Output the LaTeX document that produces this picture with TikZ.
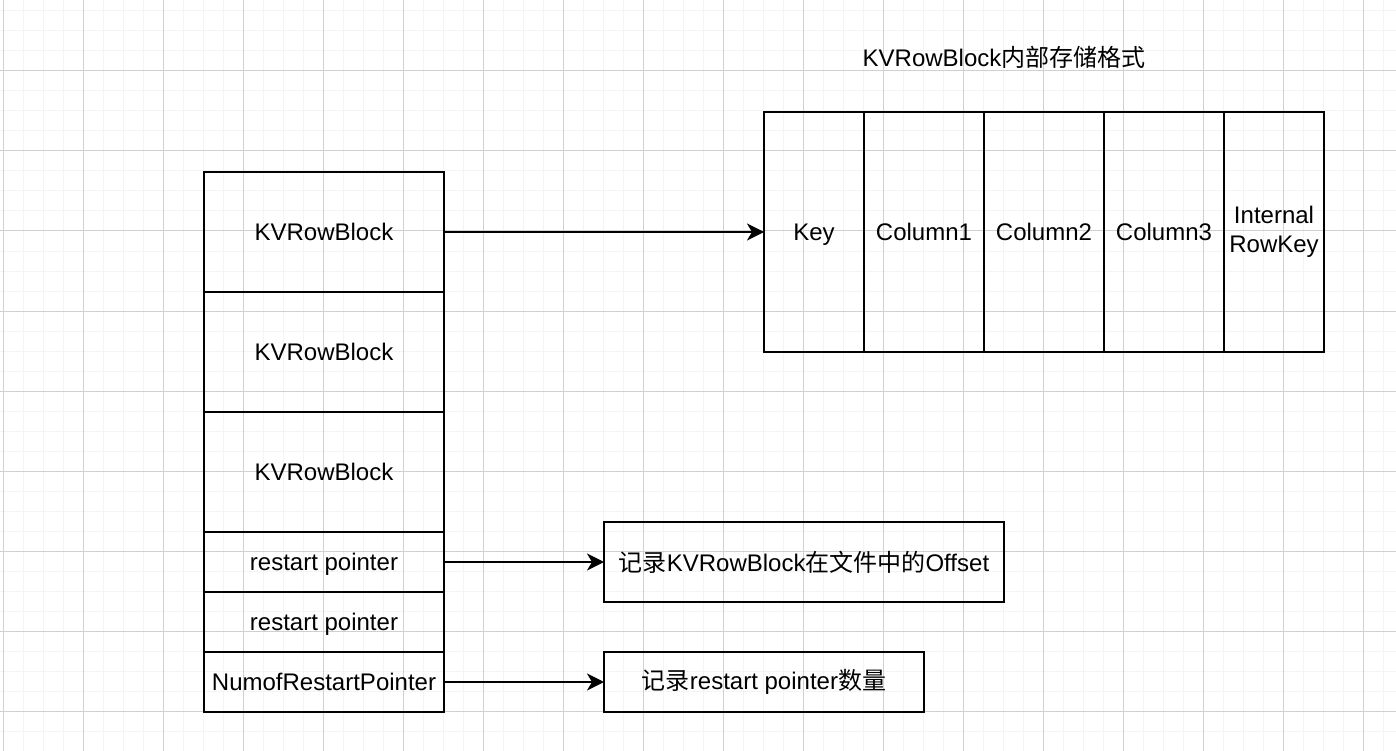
\documentclass[tikz,border=0pt]{standalone}
\usepackage{fontspec}
\setmainfont{Liberation Sans}
\newfontfamily\cjk{Noto Sans CJK SC}
\usetikzlibrary{arrows.meta}
\definecolor{minorgrid}{RGB}{244,244,244}
\definecolor{majorgrid}{RGB}{208,208,208}
\begin{document}
\begin{tikzpicture}[x=1pt,y=-1pt,
  cell/.style={draw=black, line width=2pt, inner sep=0pt, outer sep=0pt, align=center,
    font=\fontsize{24}{29}\selectfont},
  oneline/.style={text height=17.2pt, text depth=0pt},
  arr/.style={line width=2pt, -{Stealth[length=17pt,width=17pt,inset=5pt]}},
  minorline/.style={draw=minorgrid, line width=1pt},
  majorline/.style={draw=majorgrid, line width=1pt}]
\useasboundingbox (0,0) rectangle (1396,751);
\fill[white] (0,0) rectangle (1396,751);
% grid
\foreach \x in {3,23,...,1393} \draw[minorline] (\x,0) -- (\x,751);
\foreach \y in {11,31,...,751} \draw[minorline] (0,\y) -- (1396,\y);
\foreach \x in {3,83,...,1393} \draw[majorline] (\x,0) -- (\x,751);
\foreach \y in {71,151,...,751} \draw[majorline] (0,\y) -- (1396,\y);
% left column
\node[cell, oneline, minimum width=240pt, minimum height=120pt] (kv1) at (324,232) {KVRowBlock};
\node[cell, oneline, minimum width=240pt, minimum height=120pt] (kv2) at (324,352) {KVRowBlock};
\node[cell, oneline, minimum width=240pt, minimum height=120pt] (kv3) at (324,472) {KVRowBlock};
\node[cell, oneline, minimum width=240pt, minimum height=60pt] (rp1) at (324,562) {restart pointer};
\node[cell, oneline, minimum width=240pt, minimum height=60pt] (rp2) at (324,622) {restart pointer};
\node[cell, oneline, minimum width=240pt, minimum height=60pt] (num) at (324,682) {NumofRestartPointer};
% right block
\node[cell, oneline, minimum width=100pt, minimum height=240pt] (key) at (814,232) {Key};
\node[cell, oneline, minimum width=120pt, minimum height=240pt] (c1) at (924,232) {Column1};
\node[cell, oneline, minimum width=120pt, minimum height=240pt] (c2) at (1044,232) {Column2};
\node[cell, oneline, minimum width=120pt, minimum height=240pt] (c3) at (1164,232) {Column3};
\node[cell, minimum width=100pt, minimum height=240pt] (irk) at (1274,232) {Internal\\RowKey};
% title
\node[font=\fontsize{24}{29}\selectfont, inner sep=0pt] (title) at (1004,57) {KVRowBlock{\cjk 内部存储格式}};
% notes
\node[cell, minimum width=400pt, minimum height=80pt] (off) at (804,562) {{\cjk 记录}KVRowBlock{\cjk 在文件中的}Offset};
\node[cell, minimum width=320pt, minimum height=60pt] (cnt) at (764,682) {{\cjk 记录}restart pointer{\cjk 数量}};
% arrows
\draw[arr] (kv1.east) -- (key.west);
\draw[arr] (rp1.east) -- (off.west);
\draw[arr] (num.east) -- (cnt.west);
\end{tikzpicture}
\end{document}
